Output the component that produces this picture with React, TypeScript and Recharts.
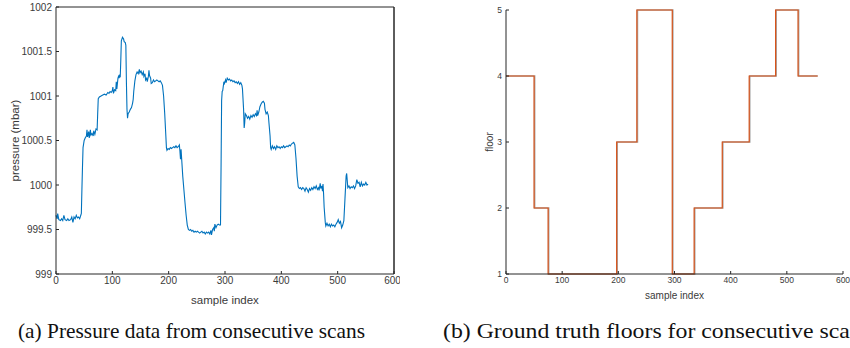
import React from 'react';
import { LineChart, Line, XAxis, YAxis, ReferenceLine } from 'recharts';

// pressure scan samples: [sample index, pressure in mbar]
const pressureSamples: [number, number][] = [
  [0, 999.66], [2, 999.62], [3, 999.68], [5, 999.61], [8, 999.6], [10, 999.62], [12, 999.6], [14, 999.66],
  [16, 999.61], [19, 999.6], [21, 999.62], [23, 999.6], [26, 999.61], [28, 999.64], [30, 999.58], [32, 999.64],
  [34, 999.62], [36, 999.66], [38, 999.63], [40, 999.64], [42, 999.62], [44, 999.66], [45, 999.68],
  [46, 999.95], [47, 1000.2], [48, 1000.42], [50, 1000.5], [52, 1000.53],
  [54, 1000.55], [55, 1000.62], [56, 1000.54], [58, 1000.6], [59, 1000.53], [61, 1000.62], [62, 1000.56],
  [64, 1000.58], [66, 1000.55], [67, 1000.61], [69, 1000.57], [71, 1000.63], [73, 1000.62],
  [74, 1000.8], [75, 1000.97], [77, 1000.99], [80, 1001.0], [83, 1001.01], [86, 1001.02], [89, 1001.01],
  [92, 1001.04], [94, 1001.03], [96, 1001.05], [98, 1001.04], [100, 1001.06], [101, 1001.1], [102, 1001.03],
  [104, 1001.07], [106, 1001.06], [107, 1001.16], [108, 1001.08], [110, 1001.2], [111, 1001.22], [112, 1001.2],
  [113, 1001.24], [114, 1001.21], [115, 1001.4], [116, 1001.62], [118, 1001.66], [120, 1001.64], [121, 1001.61],
  [123, 1001.6], [124, 1001.57], [125, 1001.15], [126, 1000.85], [127, 1000.75], [128, 1000.8], [130, 1000.82],
  [132, 1000.85], [134, 1000.87], [136, 1000.92], [137, 1000.96], [138, 1001.05], [140, 1001.17], [142, 1001.24],
  [144, 1001.27], [146, 1001.25], [148, 1001.3], [149, 1001.26], [151, 1001.28], [153, 1001.24], [155, 1001.27],
  [156, 1001.22], [158, 1001.25], [159, 1001.18], [161, 1001.2], [162, 1001.16], [164, 1001.22], [165, 1001.29],
  [166, 1001.23], [168, 1001.2], [169, 1001.14], [171, 1001.15], [173, 1001.18], [175, 1001.16], [177, 1001.17],
  [179, 1001.18], [181, 1001.17], [183, 1001.16], [185, 1001.17], [187, 1001.15], [189, 1001.12],
  [191, 1001.0], [193, 1000.8], [195, 1000.55], [196, 1000.42], [197, 1000.39], [199, 1000.41], [201, 1000.4],
  [203, 1000.42], [205, 1000.41], [207, 1000.42], [209, 1000.43], [211, 1000.42], [213, 1000.44], [215, 1000.42],
  [217, 1000.43], [219, 1000.45], [220, 1000.38], [221, 1000.29], [222, 1000.4], [223, 1000.3], [225, 1000.1],
  [227, 999.95], [229, 999.8], [231, 999.66], [233, 999.55], [235, 999.5], [237, 999.49], [239, 999.5],
  [241, 999.48], [243, 999.49], [245, 999.47], [247, 999.48], [249, 999.47], [251, 999.48], [253, 999.47],
  [255, 999.46], [257, 999.47], [259, 999.48], [261, 999.46], [263, 999.47], [265, 999.45], [267, 999.47],
  [269, 999.46], [271, 999.47], [273, 999.45], [275, 999.49], [276, 999.44], [278, 999.5], [280, 999.52],
  [281, 999.48], [282, 999.56], [284, 999.52], [286, 999.55], [288, 999.56], [290, 999.55], [292, 999.55],
  [293, 1000.2], [294, 1000.95], [295, 1001.05], [296, 1001.06], [298, 1001.16], [299, 1001.14], [301, 1001.18],
  [302, 1001.15], [304, 1001.2], [306, 1001.18], [308, 1001.19], [310, 1001.17], [312, 1001.18], [314, 1001.16],
  [316, 1001.17], [318, 1001.15], [320, 1001.16], [322, 1001.14], [324, 1001.16], [326, 1001.13], [328, 1001.15],
  [330, 1001.12], [331, 1001.08], [333, 1000.85], [334, 1000.64], [335, 1000.7], [336, 1000.8], [338, 1000.78],
  [340, 1000.75], [342, 1000.77], [344, 1000.74], [346, 1000.78], [348, 1000.76], [350, 1000.79], [352, 1000.77],
  [354, 1000.8], [356, 1000.78], [357, 1000.84], [358, 1000.78], [360, 1000.82], [362, 1000.88], [364, 1000.91],
  [366, 1000.93], [368, 1000.94], [370, 1000.92], [371, 1000.85], [373, 1000.8], [375, 1000.82], [377, 1000.78],
  [378, 1000.7], [380, 1000.55], [381, 1000.42], [382, 1000.4], [384, 1000.44], [386, 1000.41], [388, 1000.43],
  [390, 1000.4], [392, 1000.44], [394, 1000.42], [396, 1000.43], [398, 1000.41], [400, 1000.43], [402, 1000.42],
  [404, 1000.44], [406, 1000.42], [408, 1000.43], [410, 1000.44], [412, 1000.43], [414, 1000.45], [416, 1000.44],
  [418, 1000.46], [420, 1000.47], [422, 1000.48], [424, 1000.45], [426, 1000.3], [428, 1000.1], [430, 999.98],
  [432, 999.96], [434, 999.97], [436, 999.95], [438, 999.97], [440, 999.96], [442, 999.93], [444, 999.97],
  [446, 999.95], [448, 999.92], [450, 999.96], [452, 999.94], [454, 999.97], [456, 999.95], [458, 999.98],
  [460, 999.96], [462, 999.99], [464, 999.95], [466, 999.97], [467, 999.94], [469, 1000.02], [470, 999.96],
  [472, 999.99], [473, 999.93], [474, 1000.01], [475, 999.9], [476, 999.75], [478, 999.58], [479, 999.54],
  [481, 999.57], [483, 999.54], [485, 999.56], [487, 999.53], [489, 999.56], [491, 999.54], [493, 999.55],
  [495, 999.53], [497, 999.56], [499, 999.58], [501, 999.61], [503, 999.57], [505, 999.59], [507, 999.52],
  [509, 999.55], [511, 999.6], [513, 999.85], [515, 1000.1], [516, 1000.13], [517, 1000.05], [518, 999.97],
  [520, 999.99], [522, 999.96], [524, 999.98], [526, 999.97], [528, 999.99], [530, 999.96], [532, 999.99],
  [534, 1000.06], [536, 1000.02], [538, 1000.03], [540, 999.98], [542, 1000.03], [544, 999.99], [546, 1000.01],
  [548, 1000.0], [550, 1000.03], [552, 1000.0], [554, 1000.01],
];

// ground truth floor changes: [sample index, floor]
const floorSteps: [number, number][] = [
  [0, 4], [50, 2], [75, 1], [197, 3], [233, 5], [296, 1], [335, 2], [385, 3], [433, 4], [480, 5], [520, 4], [555, 4],
];
// estimated floors (grey trace under the truth)
const floorEstimate: [number, number][] = [
  [0, 4], [51, 2], [76, 1], [198, 3], [234, 5], [297, 1], [336, 2], [386, 3], [434, 4], [481, 5], [521, 4], [555, 4],
];

const xTicks = [0, 100, 200, 300, 400, 500, 600];
const pressureTicks = [999, 999.5, 1000, 1000.5, 1001, 1001.5, 1002];
const floorTicks = [1, 2, 3, 4, 5];

const pressureData = pressureSamples.map(([idx, p]) => ({ idx, p }));
const floorData = floorSteps.map(([idx, f]) => ({ idx, f }));
const estData = floorEstimate.map(([idx, f]) => ({ idx, f }));

const AXIS = '#262626';
const TICK_TEXT = { fill: '#3a3a3a', fontSize: 10 };
const FONT = '"Liberation Sans", Arial, sans-serif';
const SERIF = '"Liberation Serif", "DejaVu Serif", serif';

export default function App() {
  return (
    <div style={{ position: 'absolute', left: 0, top: 0, width: 850, height: 348, background: '#fff', overflow: 'hidden', fontFamily: FONT }}>
      <div style={{ position: 'absolute', left: 0, top: 0 }}>
        <LineChart width={400} height={306} data={pressureData} margin={{ top: 7, right: 5, bottom: 0, left: 0 }}>
          <XAxis
            dataKey="idx"
            type="number"
            domain={[0, 600]}
            ticks={xTicks}
            tickSize={-3}
            tickMargin={6}
            height={32}
            stroke={AXIS}
            tick={TICK_TEXT}
            label={{ value: 'sample index', position: 'insideBottom', offset: 2, fill: '#3a3a3a', fontSize: 11.5 }}
          />
          <YAxis
            yAxisId="l"
            type="number"
            domain={[999, 1002]}
            ticks={pressureTicks}
            tickSize={-3}
            tickMargin={7}
            width={56}
            stroke={AXIS}
            tick={TICK_TEXT}
            label={{ value: 'pressure (mbar)', angle: -90, position: 'insideLeft', offset: 15, fill: '#3a3a3a', fontSize: 11.5, style: { textAnchor: 'middle' } }}
          />
          <YAxis
            yAxisId="r"
            orientation="right"
            type="number"
            domain={[999, 1002]}
            ticks={pressureTicks}
            tickSize={-3}
            tick={false}
            width={1}
            stroke={AXIS}
          />
          <ReferenceLine yAxisId="l" y={1002} stroke={AXIS} />
          <ReferenceLine yAxisId="l" x={600} stroke={AXIS} />
          <Line yAxisId="l" dataKey="p" stroke="#0072BD" strokeWidth={1.1} dot={false} isAnimationActive={false} />
        </LineChart>
      </div>

      <div style={{ position: 'absolute', left: 450, top: 0 }}>
        <LineChart width={400} height={306} margin={{ top: 10, right: 7, bottom: 0, left: 0 }}>
          <XAxis
            dataKey="idx"
            type="number"
            domain={[0, 600]}
            ticks={xTicks}
            tickSize={-3}
            tickMargin={6}
            height={32}
            stroke={AXIS}
            tick={{ fill: '#3a3a3a', fontSize: 8.5 }}
            label={{ value: 'sample index', position: 'insideBottom', offset: 7, fill: '#3a3a3a', fontSize: 10 }}
          />
          <YAxis
            type="number"
            domain={[1, 5]}
            ticks={floorTicks}
            tickSize={-3}
            tickMargin={7}
            width={56}
            stroke={AXIS}
            tick={{ fill: '#3a3a3a', fontSize: 8.5 }}
            label={{ value: 'floor', angle: -90, position: 'insideLeft', offset: 39, fill: '#3a3a3a', fontSize: 10, style: { textAnchor: 'middle' } }}
          />
          <Line data={estData} dataKey="f" type="stepAfter" stroke="#a8a8a8" strokeWidth={1.6} dot={false} isAnimationActive={false} />
          <Line data={floorData} dataKey="f" type="stepAfter" stroke="#D95319" strokeWidth={1.2} dot={false} isAnimationActive={false} />
        </LineChart>
      </div>

      <svg width={850} height={348} style={{ position: 'absolute', left: 0, top: 0, pointerEvents: 'none' }}>
        <text x={18} y={338} fontFamily={SERIF} fontSize={22} fill="#111" textLength={347} lengthAdjust="spacingAndGlyphs">
          (a) Pressure data from consecutive scans
        </text>
        <text x={443} y={338} fontFamily={SERIF} fontSize={22} fill="#111" textLength={428} lengthAdjust="spacingAndGlyphs">
          (b) Ground truth floors for consecutive scans
        </text>
      </svg>
    </div>
  );
}
